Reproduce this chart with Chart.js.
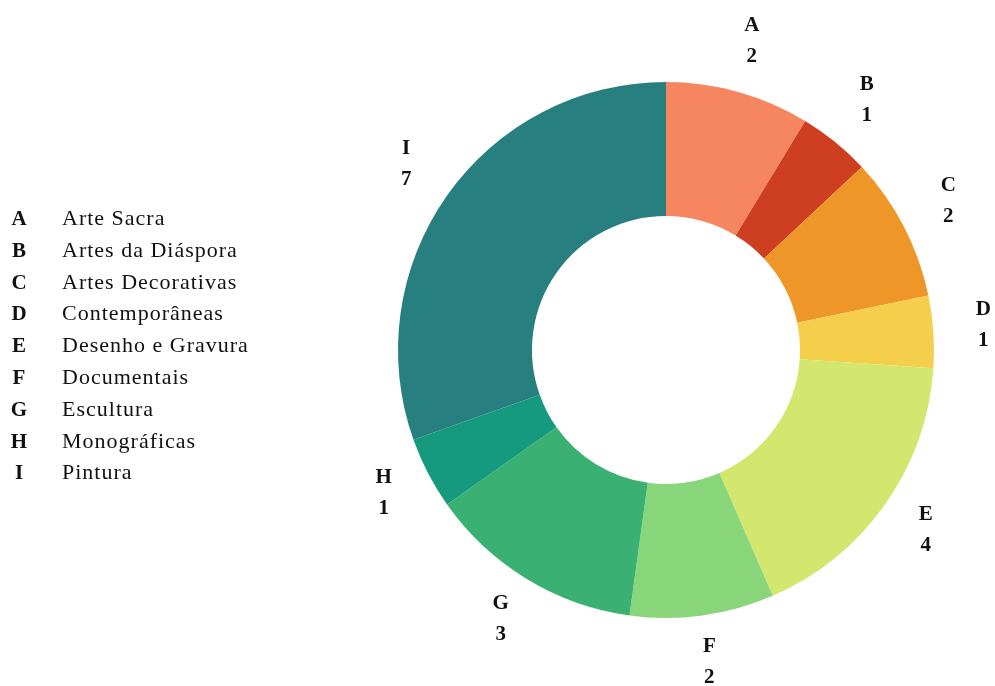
<!DOCTYPE html>
<html>
<head>
<meta charset="utf-8">
<script src="https://cdn.jsdelivr.net/npm/chart.js@4"></script>
<style>
  html, body { margin: 0; padding: 0; background: #fff; }
  #wrap { position: relative; width: 995px; height: 686px; }
  #legend { position: absolute; left: 0; top: 204px; color: #111; }
  #legend div { height: 31.8px; line-height: 31.8px; white-space: nowrap; }
  #legend b { display: inline-block; width: 38px; text-align: center; font: bold 21px "Liberation Serif", serif; }
  #legend span { display: inline-block; margin-left: 24px; font: 22px "Liberation Serif", serif; letter-spacing: 1px; }
</style>
</head>
<body>
<div id="wrap">
  <canvas id="canvas" width="995" height="686"></canvas>
  <div id="legend"></div>
</div>
<script>
  var letters = ["A", "B", "C", "D", "E", "F", "G", "H", "I"];
  var names = ["Arte Sacra", "Artes da Diáspora", "Artes Decorativas", "Contemporâneas",
               "Desenho e Gravura", "Documentais", "Escultura", "Monográficas", "Pintura"];
  var counts = [2, 1, 2, 1, 4, 2, 3, 1, 7];
  var colors = ["#f58660", "#cd3f20", "#ef9628", "#f5cf4b", "#d3e76f",
                "#89d57a", "#3bb073", "#169a7f", "#287f7f"];

  // legend: bold letter + category name
  var legend = document.getElementById("legend");
  for (var i = 0; i < letters.length; i++)
  {
    var row = document.createElement("div");
    row.innerHTML = "<b>" + letters[i] + "</b><span>" + names[i] + "</span>";
    legend.appendChild(row);
  }

  // letter and value drawn outside each slice
  var outsideLabels = {
    id: 'outsideLabels',
    afterDatasetsDraw: function(chart)
    {
      var ctx = chart.ctx;
      var meta = chart.getDatasetMeta(0);
      ctx.save();
      ctx.font = "bold 21px 'Liberation Serif', serif";
      ctx.fillStyle = "#111";
      ctx.textAlign = "center";
      ctx.textBaseline = "middle";
      meta.data.forEach(function(arc, i)
      {
        var mid = (arc.startAngle + arc.endAngle) / 2;
        var r = arc.outerRadius + 50;
        var x = arc.x + Math.cos(mid) * r;
        var y = arc.y + Math.sin(mid) * r - 3;
        ctx.fillText(letters[i], x, y - 15.5);
        ctx.fillText(String(counts[i]), x, y + 15.5);
      });
      ctx.restore();
    }
  };

  var ctx = document.getElementById("canvas").getContext("2d");
  window.myDoughnut = new Chart(ctx, {
    type: 'doughnut',
    data: {
      labels: letters,
      datasets: [{
        data: counts,
        backgroundColor: colors,
        borderWidth: 0
      }]
    },
    options: {
      responsive: false,
      animation: false,
      cutout: '50%',
      layout: { padding: { left: 398, right: 61, top: 82, bottom: 68 } },
      plugins: {
        legend: { display: false },
        tooltip: { enabled: false }
      }
    },
    plugins: [outsideLabels]
  });
</script>
</body>
</html>
